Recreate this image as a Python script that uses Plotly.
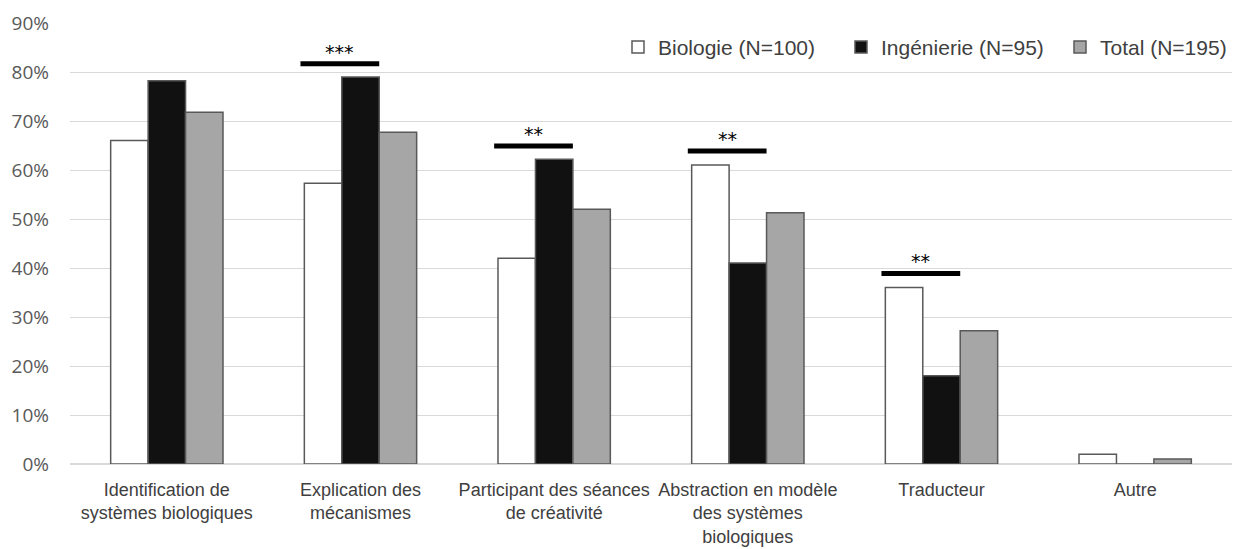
import plotly.graph_objects as go

categories = [
    "Identification de<br>systèmes biologiques",
    "Explication des<br>mécanismes",
    "Participant des séances<br>de créativité",
    "Abstraction en modèle<br>des systèmes<br>biologiques",
    "Traducteur",
    "Autre",
]
biologie = [0.66, 0.573, 0.42, 0.61, 0.36, 0.02]
ingenierie = [0.782, 0.79, 0.622, 0.41, 0.18, 0.0]
total = [0.718, 0.677, 0.52, 0.513, 0.272, 0.01]

# significance markers: category index, stars, bar height
sig_idx = [1, 2, 3, 4]
sig_stars = ["***", "**", "**", "**"]
sig_level = [0.817, 0.649, 0.639, 0.389]

series = [
    ("Biologie (N=100)", biologie, "#ffffff"),
    ("Ingénierie (N=95)", ingenierie, "#111111"),
    ("Total (N=195)", total, "#a6a6a6"),
]

BARGAP = 0.42
sans = "Liberation Sans, Arial, sans-serif"

# one legend per series so each entry can be placed like the original
legend_ids = ["legend", "legend2", "legend3"]
legend_pos = [(0.4716, "left"), (0.6635, "left"), (1.0, "right")]

fig = go.Figure()
for (name, vals, color), lid in zip(series, legend_ids):
    fig.add_trace(go.Bar(
        x=list(range(len(categories))), y=vals, name=name, legend=lid,
        showlegend=True,
        marker=dict(color=color, line=dict(color="#595959", width=1.5)),
    ))

# significance bars span the Biologie and Ingénierie bars
grp = 1 - BARGAP
for i, s, lvl in zip(sig_idx, sig_stars, sig_level):
    x0 = i - grp / 2 - 0.02
    x1 = i + grp / 6
    fig.add_shape(type="line", x0=x0, x1=x1, y0=lvl, y1=lvl, xref="x", yref="y",
                  line=dict(color="#000000", width=5))
    fig.add_annotation(x=(x0 + x1) / 2, y=lvl, text=s, showarrow=False, yshift=12,
                       font=dict(size=19, color="#000000", family="DejaVu Sans"))

legends = {}
for lid, (lx, anchor) in zip(legend_ids, legend_pos):
    legends[lid] = dict(
        orientation="h", x=lx, xanchor=anchor, y=0.945, yanchor="middle",
        font=dict(size=21, family=sans, color="#404040"),
        itemwidth=30, bgcolor="rgba(0,0,0,0)",
    )

fig.update_layout(
    width=1240, height=549,
    margin=dict(l=62, r=16, t=15, b=93),
    paper_bgcolor="white", plot_bgcolor="white",
    showlegend=True,
    barmode="group", bargap=BARGAP, bargroupgap=0,
    xaxis=dict(tickmode="array", tickvals=list(range(len(categories))), ticktext=categories,
               range=[-0.5, len(categories) - 0.5], showgrid=False, showline=False,
               tickangle=0, automargin=False,
               tickfont=dict(size=18, family=sans, color="#404040"),
               ticklabelstandoff=13),
    yaxis=dict(range=[0, 0.9], dtick=0.1, tickformat=".0%", showgrid=True,
               gridcolor="#d9d9d9", gridwidth=1, zeroline=True, zerolinecolor="#d9d9d9",
               automargin=False,
               tickfont=dict(size=19, family="Open Sans, sans-serif", color="#595959"),
               ticklabelstandoff=20),
    **legends,
)

fig.write_html("out.html")
